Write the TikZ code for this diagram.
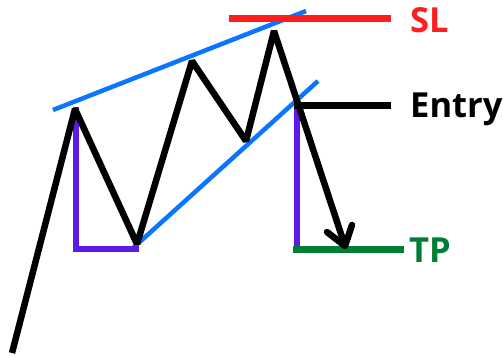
\documentclass[tikz,border=0pt]{standalone}
\usepackage{fontspec}
\setmainfont{Open Sans}
\usepackage{tikz}
\usetikzlibrary{positioning}

\definecolor{slred}{RGB}{255,30,30}
\definecolor{tlblue}{RGB}{10,118,255}
\definecolor{mvpurple}{RGB}{92,26,232}
\definecolor{tpgreen}{RGB}{0,125,52}

\begin{document}
\begin{tikzpicture}[x=1pt, y=-1pt,
    price/.style={black, line width=6.5pt, line join=bevel},
    trend/.style={tlblue, line width=4.5pt},
    move/.style={mvpurple, line width=5.5pt},
    level/.style={line width=7pt},
    lbl/.style={anchor=base west, inner sep=0pt, font=\bfseries\fontsize{34.5}{34.5}\selectfont}]
    \useasboundingbox (0,0) rectangle (503,356);

    % Points of the price path
    \coordinate (p0) at (12,353);
    \coordinate (p1) at (75,109);
    \coordinate (p2) at (137,244);
    \coordinate (p3) at (192,61);
    \coordinate (p4) at (246,141);
    \coordinate (p5) at (274,31);
    \coordinate (tip) at (345,246);
    \coordinate (armL) at (327,232);
    \coordinate (armR) at (352,225);

    % Trend lines
    \coordinate (up-a) at (53,110);
    \coordinate (up-b) at (306,11);
    \coordinate (lo-a) at (133,248);
    \coordinate (lo-b) at (318,81);
    \draw[trend] (up-a) -- (up-b);
    \draw[trend] (lo-a) -- (lo-b);

    % Measured moves
    \coordinate (mv1-a) at (76,107);
    \coordinate (mv1-b) at (76,249);
    \coordinate (mv1-c) at (139,249);
    \coordinate (mv2-a) at (297,103);
    \coordinate (mv2-b) at (297,249);
    \draw[move] (mv1-a) -- (mv1-b) -- (mv1-c);
    \draw[move] (mv2-a) -- (mv2-b);

    % Labels
    \node[lbl, text=slred] (sl) at (410,32) {SL};
    \node[lbl, text=black] (entry) at (410,117) {Entry};
    \node[lbl, text=tpgreen] (tp) at (409,262) {TP};

    % Levels
    \coordinate (sl-a) at (229,18);
    \coordinate (sl-b) at (391,18);
    \coordinate (en-a) at (294,105);
    \coordinate (en-b) at (391,105);
    \coordinate (tp-a) at (293,249);
    \coordinate (tp-b) at (404,249);
    \draw[level, slred] (sl-a) -- (sl-b);
    \draw[level, tpgreen] (tp-a) -- (tp-b);
    \draw[level, black] (en-a) -- (en-b);

    % Price path
    \draw[price] (p0) -- (p1) -- (p2) -- (p3) -- (p4) -- (p5) -- (tip);
    \draw[price, line cap=round, line join=round] (armL) -- (tip) -- (armR);
\end{tikzpicture}
\end{document}
